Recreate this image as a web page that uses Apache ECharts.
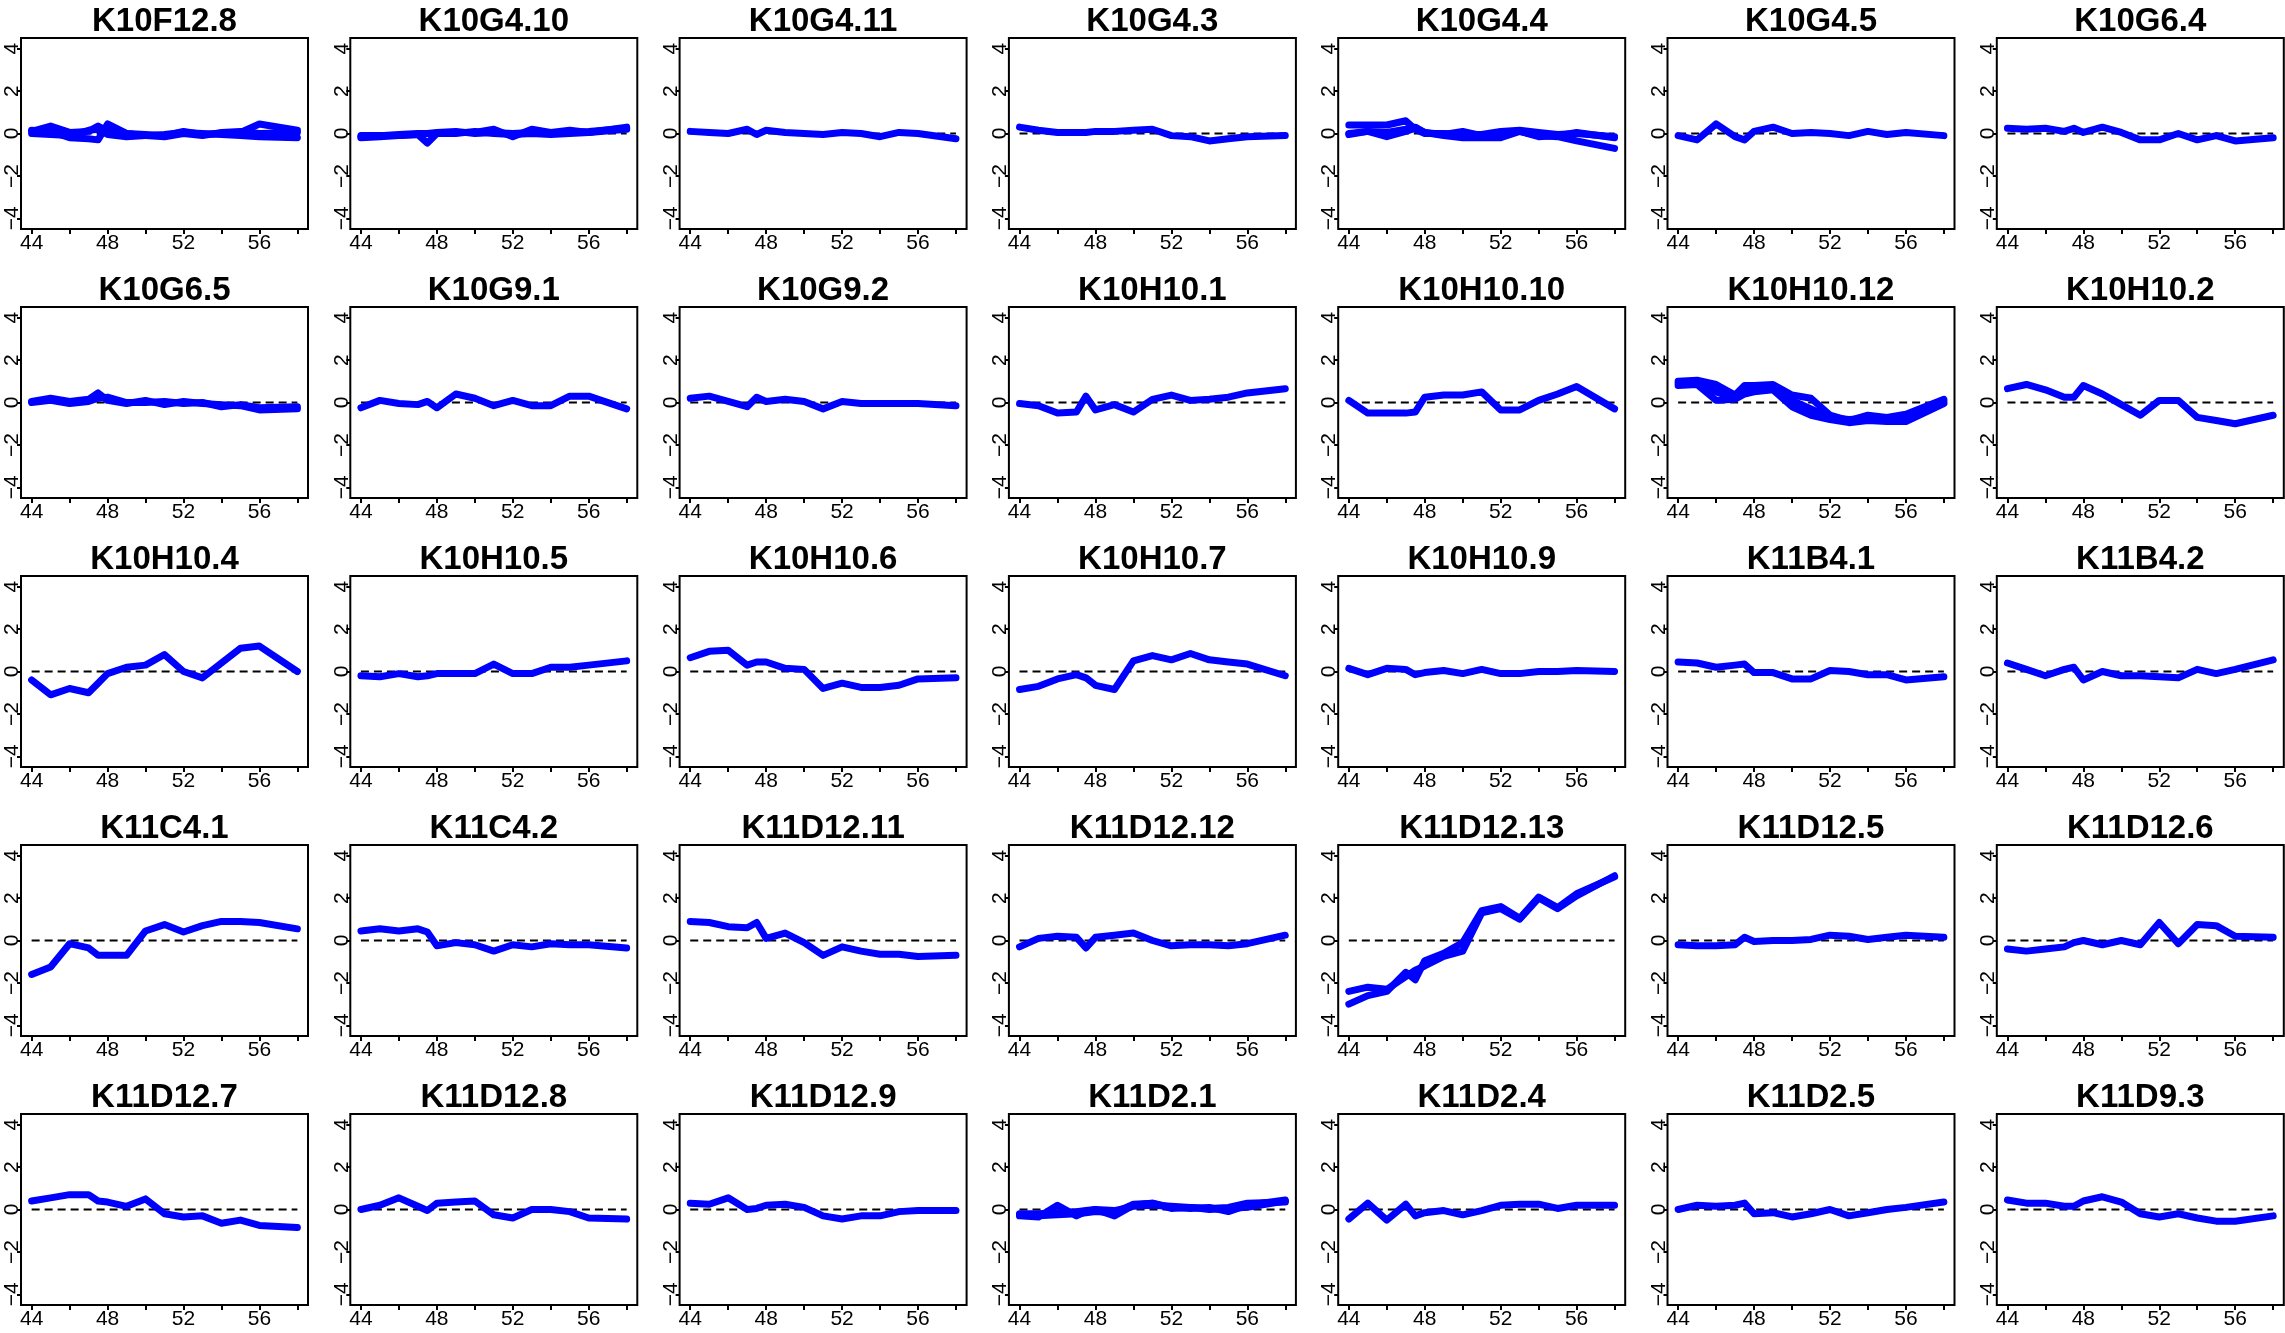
<!DOCTYPE html>
<html>
<head>
<meta charset="utf-8">
<script src="https://cdn.jsdelivr.net/npm/echarts@6/dist/echarts.min.js"></script>
<style>
html,body{margin:0;padding:0;background:#fff;}
#chart{width:2285px;height:1333px;}
</style>
</head>
<body>
<div id="chart"></div>
<script>
// x positions of the measurements
const xs = [44,45,46,47,47.5,48,49,50,51,52,53,54,55,56,58];
const xTickValues = [44,46,48,50,52,54,56,58];
const xLabelValues = [44,48,52,56];
const yTickValues = [-4,-2,0,2,4];

const titles = [
  "K10F12.8","K10G4.10","K10G4.11","K10G4.3","K10G4.4","K10G4.5","K10G6.4",
  "K10G6.5","K10G9.1","K10G9.2","K10H10.1","K10H10.10","K10H10.12","K10H10.2",
  "K10H10.4","K10H10.5","K10H10.6","K10H10.7","K10H10.9","K11B4.1","K11B4.2",
  "K11C4.1","K11C4.2","K11D12.11","K11D12.12","K11D12.13","K11D12.5","K11D12.6",
  "K11D12.7","K11D12.8","K11D12.9","K11D2.1","K11D2.4","K11D2.5","K11D9.3"
];

// each panel: list of lines, each line = values at xs
const p01 = [
  [0.1,0.35,0.05,0.1,0.35,0.1,0.0,-0.05,-0.1,0.1,-0.05,0.0,0.05,0.45,0.15],
  [0.15,0.1,-0.2,-0.25,-0.3,0.45,0.0,-0.1,-0.15,0.0,-0.1,0.05,0.1,0.0,0.05],
  [0.0,-0.05,-0.1,0.15,0.2,-0.05,-0.15,-0.1,-0.05,0.05,0.0,-0.05,-0.1,-0.15,-0.2]
];
const p02 = [
  [-0.2,-0.15,-0.1,-0.05,-0.45,0.0,0.05,0.05,0.2,-0.15,0.2,0.05,0.15,0.05,0.3],
  [-0.1,-0.1,-0.05,0.0,0.0,0.05,0.1,0.0,0.05,0.0,0.05,0.0,0.05,0.1,0.25],
  [-0.15,-0.1,-0.1,-0.05,0.0,0.0,0.0,0.1,0.0,-0.05,0.0,-0.05,0.0,0.05,0.2]
];
const p03 = [[0.1,0.05,0.0,0.2,-0.05,0.15,0.05,0.0,-0.05,0.05,0.0,-0.15,0.05,0.0,-0.25]];
const p04 = [[0.3,0.15,0.05,0.05,0.05,0.1,0.1,0.15,0.2,-0.1,-0.15,-0.35,-0.25,-0.15,-0.1]];
const p05 = [
  [0.4,0.4,0.4,0.6,0.2,0.0,0.0,-0.05,-0.05,0.1,0.15,0.05,-0.05,0.0,-0.15],
  [-0.05,0.1,-0.15,0.1,0.25,0.05,-0.1,-0.2,-0.2,-0.2,0.1,-0.1,-0.15,-0.35,-0.7],
  [0.0,0.1,0.05,0.2,0.3,0.05,-0.05,0.1,-0.1,0.05,0.1,-0.15,-0.1,0.05,-0.2]
];
const p06 = [[-0.1,-0.3,0.45,-0.15,-0.3,0.1,0.3,0.0,0.05,0.0,-0.1,0.1,-0.05,0.05,-0.1]];
const p07 = [[0.25,0.2,0.25,0.1,0.25,0.05,0.3,0.05,-0.3,-0.3,0.0,-0.3,-0.1,-0.35,-0.2]];
const p08 = [
  [0.05,0.2,0.05,0.15,0.45,0.1,-0.05,0.1,-0.1,0.05,-0.05,-0.1,-0.15,-0.35,-0.3],
  [0.0,0.1,-0.05,0.05,0.2,0.25,0.0,0.0,0.05,-0.05,0.0,-0.2,-0.1,-0.25,-0.2]
];
const p09 = [[-0.25,0.1,-0.05,-0.1,0.05,-0.25,0.4,0.2,-0.15,0.1,-0.15,-0.15,0.3,0.3,-0.3]];
const p10 = [[0.2,0.3,0.05,-0.2,0.25,0.05,0.15,0.05,-0.3,0.05,-0.05,-0.05,-0.05,-0.05,-0.15]];
const p11 = [[-0.05,-0.15,-0.5,-0.45,0.3,-0.35,-0.1,-0.45,0.15,0.35,0.1,0.15,0.25,0.45,0.65]];
const p12 = [[0.1,-0.5,-0.5,-0.5,-0.45,0.25,0.35,0.35,0.5,-0.35,-0.35,0.1,0.4,0.75,-0.3]];
const p13 = [
  [1.0,1.05,0.85,0.35,0.8,0.8,0.85,0.35,0.2,-0.6,-0.85,-0.6,-0.7,-0.55,0.15],
  [0.8,0.85,0.1,0.15,0.4,0.5,0.6,-0.2,-0.6,-0.8,-0.95,-0.85,-0.9,-0.9,-0.05],
  [0.9,0.95,0.5,0.2,0.6,0.65,0.75,0.1,-0.3,-0.7,-0.8,-0.75,-0.8,-0.75,0.05]
];
const p14 = [[0.65,0.85,0.6,0.25,0.25,0.8,0.4,-0.1,-0.6,0.1,0.1,-0.7,-0.85,-1.0,-0.6]];
const p15 = [[-0.4,-1.1,-0.8,-1.0,-0.55,-0.1,0.2,0.3,0.8,0.0,-0.3,0.4,1.1,1.2,0.0]];
const p16 = [[-0.2,-0.25,-0.1,-0.25,-0.2,-0.1,-0.1,-0.1,0.35,-0.1,-0.1,0.2,0.2,0.3,0.5]];
const p17 = [[0.65,0.95,1.0,0.3,0.45,0.45,0.15,0.1,-0.8,-0.55,-0.75,-0.75,-0.65,-0.35,-0.3]];
const p18 = [[-0.85,-0.7,-0.35,-0.15,-0.3,-0.65,-0.85,0.5,0.75,0.55,0.85,0.55,0.45,0.35,-0.2]];
const p19 = [[0.15,-0.15,0.15,0.1,-0.15,-0.05,0.05,-0.1,0.1,-0.1,-0.1,0.0,0.0,0.05,0.0]];
const p20 = [[0.45,0.4,0.2,0.3,0.35,-0.05,-0.05,-0.35,-0.35,0.05,0.0,-0.15,-0.15,-0.4,-0.25]];
const p21 = [[0.4,0.1,-0.2,0.1,0.2,-0.4,0.0,-0.2,-0.2,-0.25,-0.3,0.1,-0.1,0.1,0.55]];
const p22 = [[-1.6,-1.25,-0.15,-0.35,-0.7,-0.7,-0.7,0.45,0.75,0.4,0.7,0.9,0.9,0.85,0.55]];
const p23 = [[0.45,0.55,0.45,0.55,0.4,-0.25,-0.1,-0.2,-0.5,-0.2,-0.3,-0.15,-0.2,-0.2,-0.35]];
const p24 = [[0.9,0.85,0.65,0.6,0.85,0.1,0.35,-0.1,-0.7,-0.3,-0.5,-0.65,-0.65,-0.75,-0.7]];
const p25 = [[-0.3,0.1,0.2,0.15,-0.35,0.15,0.25,0.35,0.0,-0.25,-0.2,-0.2,-0.25,-0.15,0.25]];
const p26 = [
  [-3.0,-2.6,-2.4,-1.5,-1.85,-0.95,-0.6,-0.1,1.4,1.6,1.05,2.05,1.55,2.2,3.0],
  [-2.4,-2.2,-2.3,-1.7,-1.4,-1.2,-0.75,-0.5,1.3,1.5,1.0,2.0,1.5,2.1,3.05]
];
const p27 = [[-0.2,-0.25,-0.25,-0.2,0.15,-0.05,0.0,0.0,0.05,0.25,0.2,0.05,0.15,0.25,0.15]];
const p28 = [[-0.4,-0.5,-0.4,-0.3,-0.1,0.0,-0.2,0.0,-0.2,0.85,-0.15,0.75,0.7,0.2,0.15]];
const p29 = [[0.4,0.55,0.7,0.7,0.4,0.35,0.15,0.5,-0.2,-0.35,-0.3,-0.65,-0.5,-0.75,-0.85]];
const p30 = [[0.0,0.2,0.55,0.15,-0.05,0.3,0.35,0.4,-0.25,-0.4,0.0,0.0,-0.1,-0.4,-0.45]];
const p31 = [[0.3,0.25,0.55,0.0,0.05,0.2,0.25,0.1,-0.3,-0.45,-0.3,-0.3,-0.1,-0.05,-0.05]];
const p32 = [
  [-0.3,-0.35,0.2,-0.3,-0.1,0.0,-0.3,0.2,0.3,0.1,0.05,0.1,-0.1,0.2,0.45],
  [-0.2,-0.2,-0.15,-0.1,-0.05,0.0,-0.05,0.15,0.2,0.15,0.1,0.05,0.1,0.3,0.35],
  [-0.25,-0.3,-0.25,-0.2,-0.15,-0.1,-0.15,0.25,0.3,0.05,0.1,0.0,0.05,0.1,0.4]
];
const p33 = [[-0.45,0.3,-0.5,0.25,-0.3,-0.15,-0.05,-0.25,-0.05,0.2,0.25,0.25,0.05,0.2,0.2]];
const p34 = [[0.0,0.2,0.15,0.2,0.3,-0.2,-0.15,-0.35,-0.2,0.0,-0.3,-0.15,0.0,0.1,0.35]];
const p35 = [[0.45,0.3,0.3,0.15,0.15,0.4,0.6,0.35,-0.2,-0.35,-0.2,-0.4,-0.55,-0.55,-0.3]];

const panels = [p01,p02,p03,p04,p05,p06,p07,p08,p09,p10,p11,p12,p13,p14,p15,p16,p17,p18,
  p19,p20,p21,p22,p23,p24,p25,p26,p27,p28,p29,p30,p31,p32,p33,p34,p35];
const refLine = [[44,0],[58,0]];

const NCOL = 7;
const GL = 21, GT = 38, PITCHX = 329.3, PITCHY = 269, GW = 287, GH = 191;

const grid = [], xAxis = [], yAxis = [], series = [], title = [];
panels.forEach((lines, i) => {
  const r = Math.floor(i / NCOL), c = i % NCOL;
  const left = GL + c * PITCHX, top = GT + r * PITCHY;
  grid.push({left: left, top: top, width: GW, height: GH, show: true,
    borderColor: '#000', borderWidth: 2, backgroundColor: 'transparent', containLabel: false});
  title.push({text: titles[i], left: left + GW / 2, top: top - 16.5, padding: 0,
    textAlign: 'center', textVerticalAlign: 'middle',
    textStyle: {fontSize: 33, fontWeight: 'bold', color: '#000', fontFamily: 'Arial'}});
  xAxis.push({type: 'value', gridIndex: i, min: 43.44, max: 58.56,
    axisLine: {show: false, onZero: false},
    axisTick: {show: true, customValues: xTickValues, length: 5, inside: false,
      lineStyle: {color: '#000', width: 2}},
    axisLabel: {show: true, customValues: xLabelValues, margin: 4, fontSize: 21,
      color: '#000', fontFamily: 'Arial'},
    splitLine: {show: false}});
  yAxis.push({type: 'value', gridIndex: i, min: -4.5, max: 4.5,
    axisLine: {show: false, onZero: false},
    axisTick: {show: true, customValues: yTickValues, length: 4, inside: false,
      lineStyle: {color: '#000', width: 2}},
    axisLabel: {show: true, customValues: yTickValues, rotate: 90, margin: -2, fontSize: 21,
      color: '#000', fontFamily: 'Arial',
      formatter: v => String(v).replace('-', '\u2212')},
    splitLine: {show: false}});
  series.push({type: 'line', xAxisIndex: i, yAxisIndex: i, data: refLine, showSymbol: false,
    silent: true, z: 1, lineStyle: {color: '#000', width: 2, type: [8, 5]}});
  lines.forEach(vals => {
    series.push({type: 'line', xAxisIndex: i, yAxisIndex: i, z: 2, showSymbol: false,
      data: xs.map((x, k) => [x, vals[k]]),
      lineStyle: {color: '#0000ff', width: 7, join: 'round', cap: 'round'}});
  });
});

const chart = echarts.init(document.getElementById('chart'), null, {renderer: 'canvas'});
chart.setOption({animation: false, backgroundColor: '#fff', title, grid, xAxis, yAxis, series});
</script>
</body>
</html>
